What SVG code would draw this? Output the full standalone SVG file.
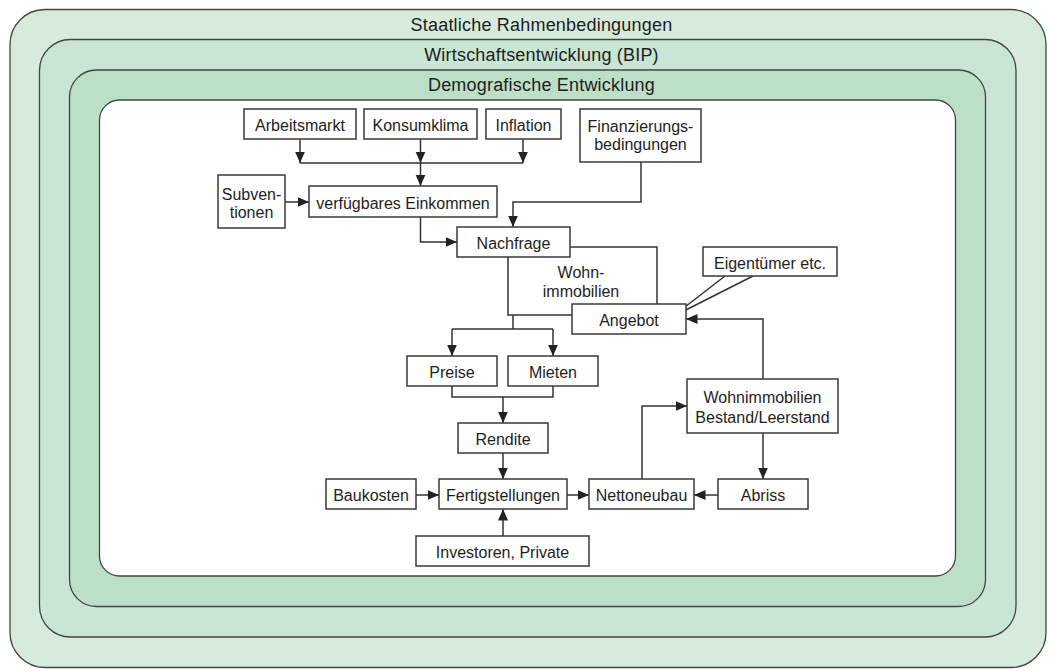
<svg xmlns="http://www.w3.org/2000/svg" width="1053" height="671" viewBox="0 0 1053 671">
<defs>
<style>
.frame{stroke:#444;stroke-width:1.3}
.box{fill:#fff;stroke:#3a3a3a;stroke-width:1.5}
.t{font-family:"Liberation Sans",Arial,sans-serif;font-size:16px;fill:#1e1e1e;text-anchor:middle}
.title{font-family:"Liberation Sans",Arial,sans-serif;font-size:18px;fill:#1e1e1e;text-anchor:middle;letter-spacing:0.2px}
.c{fill:none;stroke:#333;stroke-width:1.5}
.a{marker-end:url(#arr)}
</style>
<marker id="arr" markerUnits="userSpaceOnUse" markerWidth="13" markerHeight="11" refX="11.5" refY="5" orient="auto">
<path d="M0,0 L11.5,5 L0,10 Z" fill="#222"/>
</marker>
</defs>

<g id="frames">
<rect class="frame" x="10" y="9.5" width="1036" height="658" rx="35" ry="35" fill="#d7ebdd"/>
<rect class="frame" x="39.5" y="39.5" width="976.5" height="597.5" rx="31" ry="31" fill="#c9e5d3"/>
<rect class="frame" x="69.5" y="70" width="916" height="536.5" rx="27" ry="27" fill="#bcdfc8"/>
<rect class="frame" x="99.5" y="100" width="856" height="476" rx="20" ry="20" fill="#ffffff"/>
<text class="title" x="541.5" y="31">Staatliche Rahmenbedingungen</text>
<text class="title" x="541.5" y="61">Wirtschaftsentwicklung (BIP)</text>
<text class="title" x="541.5" y="91">Demografische Entwicklung</text>
</g>

<g id="connectors">
<path class="c a" d="M300,139 V163"/>
<path class="c a" d="M420.5,139 V163"/>
<path class="c a" d="M523,139 V163"/>
<path class="c" d="M300,163 H523"/>
<path class="c a" d="M420.5,163 V186"/>
<path class="c a" d="M285,202 H309"/>
<path class="c a" d="M420.5,217 V242 H457"/>
<path class="c a" d="M641,162 V202 H513 V227"/>
<path class="c" d="M570,247 H657 V304"/>
<path class="c" d="M508,257 V315 H572"/>
<path class="c" d="M513,315 V329"/>
<path class="c" d="M452,329 H553"/>
<path class="c a" d="M452,329 V356"/>
<path class="c a" d="M553,329 V356"/>
<path class="c" d="M452,386 V397 H553 V386"/>
<path class="c a" d="M503,397 V423"/>
<path class="c a" d="M503,453 V479"/>
<path class="c a" d="M416,495 H439"/>
<path class="c a" d="M567,495 H589"/>
<path class="c a" d="M503,536 V509"/>
<path class="c a" d="M642,479 V406 H687"/>
<path class="c a" d="M763,433 V479"/>
<path class="c a" d="M718,495 H694"/>
<path class="c a" d="M763,379 V319 H686"/>
<path class="c" d="M725,276 L672,317 L753,276"/>
</g>

<g id="arbeitsmarkt"><rect class="box" x="244" y="109" width="112" height="30"/><text class="t" x="300" y="131">Arbeitsmarkt</text></g>
<g id="konsumklima"><rect class="box" x="364" y="109" width="113" height="30"/><text class="t" x="420.5" y="131">Konsumklima</text></g>
<g id="inflation"><rect class="box" x="486" y="109" width="75" height="30"/><text class="t" x="523.5" y="131">Inflation</text></g>
<g id="finanzierung"><rect class="box" x="580" y="109" width="121" height="53"/><text class="t" x="640.5" y="131.5">Finanzierungs-</text><text class="t" x="640.5" y="150">bedingungen</text></g>
<g id="subventionen"><rect class="box" x="218" y="175" width="67" height="53"/><text class="t" x="251.5" y="200">Subven-</text><text class="t" x="251.5" y="217.5">tionen</text></g>
<g id="einkommen"><rect class="box" x="309" y="186" width="188" height="31"/><text class="t" x="403" y="208.5">verfügbares Einkommen</text></g>
<g id="nachfrage"><rect class="box" x="457" y="227" width="113" height="30"/><text class="t" x="513.5" y="249">Nachfrage</text></g>
<g id="wohnimmobilien-label"><text class="t" x="581" y="278">Wohn-</text><text class="t" x="581" y="297">immobilien</text></g>
<g id="eigentuemer"><rect class="box" x="703" y="247" width="134" height="29"/><text class="t" x="770" y="268.5">Eigentümer etc.</text></g>
<g id="angebot"><rect class="box" x="572" y="304" width="114" height="30"/><text class="t" x="629" y="326">Angebot</text></g>
<g id="preise"><rect class="box" x="407" y="356" width="90" height="30"/><text class="t" x="452" y="378">Preise</text></g>
<g id="mieten"><rect class="box" x="508" y="356" width="90" height="30"/><text class="t" x="553" y="378">Mieten</text></g>
<g id="bestand"><rect class="box" x="687" y="379" width="151" height="54"/><text class="t" x="762.5" y="402.5">Wohnimmobilien</text><text class="t" x="762.5" y="422.5">Bestand/Leerstand</text></g>
<g id="rendite"><rect class="box" x="458" y="423" width="90" height="30"/><text class="t" x="503" y="445">Rendite</text></g>
<g id="baukosten"><rect class="box" x="326" y="479" width="90" height="30"/><text class="t" x="371" y="501">Baukosten</text></g>
<g id="fertigstellungen"><rect class="box" x="439" y="479" width="128" height="30"/><text class="t" x="503" y="501">Fertigstellungen</text></g>
<g id="nettoneubau"><rect class="box" x="589" y="479" width="105" height="30"/><text class="t" x="641.5" y="501">Nettoneubau</text></g>
<g id="abriss"><rect class="box" x="718" y="479" width="90" height="30"/><text class="t" x="763" y="501">Abriss</text></g>
<g id="investoren"><rect class="box" x="416" y="536" width="173" height="30"/><text class="t" x="502.5" y="558">Investoren, Private</text></g>
</svg>
